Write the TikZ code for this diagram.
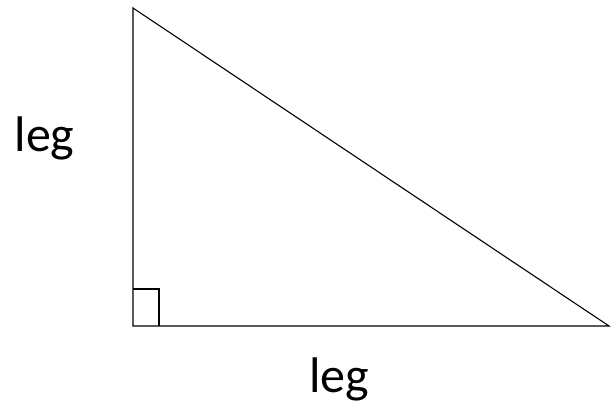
\documentclass[tikz,border=0pt]{standalone}
\usepackage{fontspec}
\setmainfont{Carlito}
\begin{document}
\begin{tikzpicture}[x=1pt,y=1pt]
\useasboundingbox (0,0) rectangle (611,404);
\coordinate (top) at (133,396);
\coordinate (corner) at (133,78);
\coordinate (right) at (609,78);
\draw[line width=1.1pt] (top) -- (corner) -- (right) -- cycle;
\draw[line width=1.5pt] (133,115) -- (159,115) -- (159,78);
\node[anchor=base,inner sep=0pt] (legleft) at (44.5,252) {\fontsize{50}{60}\selectfont leg};
\node[anchor=base,inner sep=0pt] (legbottom) at (339,11) {\fontsize{50}{60}\selectfont leg};
\end{tikzpicture}
\end{document}
